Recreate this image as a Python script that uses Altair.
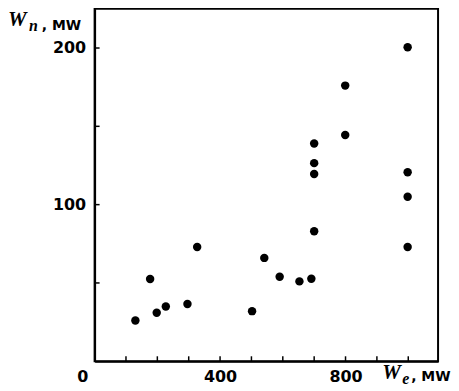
import altair as alt
import pandas as pd

# data
we = [130, 177, 198, 227, 296, 327, 502, 541, 590, 653, 691, 700, 700, 700, 700, 799, 799, 998, 998, 998, 998]
wn = [26, 52.5, 31, 35, 36.5, 73, 32, 66, 54, 51, 52.7, 83, 119.5, 126.5, 139, 144.5, 176, 200.5, 120.7, 105, 73]
x_tick_values = [100, 200, 300, 400, 500, 600, 700, 800, 900, 1000]
y_tick_values = [50, 100, 150, 200]
x_label_values = [400, 800]
y_label_values = [100, 200]

W, H = 345, 354
LABEL_FONT = "DejaVu Sans"

xs = alt.Scale(domain=[0, 1095], nice=False, zero=False)
ys = alt.Scale(domain=[0, 225], nice=False, zero=False)
xa = alt.Axis(values=x_label_values, ticks=False, tickSize=0, grid=False, domainColor="black",
              domainWidth=2, labelFont=LABEL_FONT, labelFontWeight="bold", labelFontSize=16,
              labelColor="black", labelPadding=7, title=None)
ya = alt.Axis(values=y_label_values, ticks=False, tickSize=0, grid=False, domainColor="black",
              domainWidth=2, labelFont=LABEL_FONT, labelFontWeight="bold", labelFontSize=16,
              labelColor="black", labelPadding=9, title=None)

df = pd.DataFrame({"we": we, "wn": wn})
pts = alt.Chart(df).mark_circle(size=72, color="black", opacity=1).encode(
    x=alt.X("we:Q", scale=xs, axis=xa),
    y=alt.Y("wn:Q", scale=ys, axis=ya),
)

xt = alt.Chart(pd.DataFrame({"we": x_tick_values})).mark_rule(color="black", strokeWidth=1.5).encode(
    x=alt.X("we:Q", scale=xs, axis=xa), y=alt.value(H), y2=alt.value(H - 5)
)
yt = alt.Chart(pd.DataFrame({"wn": y_tick_values})).mark_rule(color="black", strokeWidth=1.5).encode(
    y=alt.Y("wn:Q", scale=ys, axis=ya), x=alt.value(0), x2=alt.value(5)
)

one = pd.DataFrame({"k": [0]})

def txt(s, x, y, font, size, style="normal", align="left", baseline="alphabetic"):
    return alt.Chart(one).mark_text(
        text=s, font=font, fontSize=size, fontStyle=style, fontWeight="bold",
        align=align, baseline=baseline, color="black"
    ).encode(x=alt.value(x), y=alt.value(y))

zero_lbl = txt("0", -12, H + 21, LABEL_FONT, 16, align="center")
# y title: W_n , MW
yW = txt("W", -87, 17, "Liberation Serif", 21, style="italic")
yn = txt("n", -66, 22, "Liberation Serif", 16, style="italic")
yu = txt(", MW", -53, 21, LABEL_FONT, 14)
# x title: W_e , MW
xW = txt("W", 289, H + 18, "Liberation Serif", 21, style="italic")
xe = txt("e", 309, H + 23, "Liberation Serif", 16, style="italic")
xu = txt(", MW", 318, H + 20, LABEL_FONT, 14)

chart = alt.layer(pts, xt, yt, zero_lbl, yW, yn, yu, xW, xe, xu).properties(
    width=W, height=H, padding=0, background="white"
).configure_view(stroke="black", strokeWidth=2)

chart.save("out.html", embed_options={"renderer": "svg", "actions": False})
